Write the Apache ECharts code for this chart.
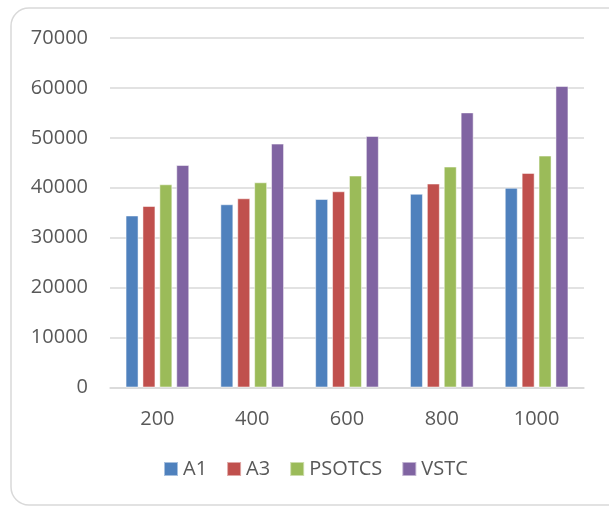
<!DOCTYPE html>
<html>
<head>
<meta charset="utf-8">
<script src="https://cdn.jsdelivr.net/npm/echarts@6/dist/echarts.min.js"></script>
<style>
  html, body { margin: 0; padding: 0; background: #fff; }
  #chart { width: 609px; height: 507px; }
</style>
</head>
<body>
<div id="chart"></div>
<script>
var categories = ['200', '400', '600', '800', '1000'];
var a1 = [34450, 36700, 37750, 38800, 40000];
var a3 = [36350, 37900, 39300, 40850, 42980];
var psotcs = [40700, 41100, 42450, 44250, 46450];
var vstc = [44560, 48850, 50380, 55100, 60380];

var seriesNames = ['A1', 'A3', 'PSOTCS', 'VSTC'];
var seriesData = [a1, a3, psotcs, vstc];
var colors = ['#4F81BD', '#C0504D', '#9BBB59', '#8064A2'];

var font = '"Open Sans", "Liberation Sans", sans-serif';

var chart = echarts.init(document.getElementById('chart'), null, { renderer: 'canvas' });

var series = seriesNames.map(function (name, i) {
  return {
    name: name,
    type: 'bar',
    data: seriesData[i],
    barWidth: 13,
    barGap: '30%',
    itemStyle: {
      color: colors[i],
      borderColor: 'rgba(255,255,255,0.5)',
      borderWidth: 1
    }
  };
});

chart.setOption({
  animation: false,
  backgroundColor: '#fff',
  color: colors,
  graphic: [{
    type: 'rect',
    shape: { x: 11, y: 8, width: 620, height: 497, r: 18 },
    style: { fill: 'none', stroke: '#d9d9d9', lineWidth: 1.5 },
    z: -1
  }],
  grid: {
    left: 110,
    right: 25,
    top: 38,
    bottom: 119.5
  },
  legend: {
    data: seriesNames,
    left: 163,
    top: 459,
    padding: 0,
    icon: 'rect',
    itemWidth: 14,
    itemHeight: 14,
    itemGap: 19,
    textStyle: { color: '#595959', fontSize: 20, fontFamily: font }
  },
  xAxis: {
    type: 'category',
    data: categories,
    axisLine: { lineStyle: { color: '#d9d9d9', width: 1.5 } },
    axisTick: { show: false },
    axisLabel: { color: '#595959', fontSize: 20, fontFamily: font, margin: 22 }
  },
  yAxis: {
    type: 'value',
    min: 0,
    max: 70000,
    interval: 10000,
    axisLine: { show: false },
    axisTick: { show: false },
    splitLine: { lineStyle: { color: '#d9d9d9', width: 1.5 } },
    axisLabel: {
      color: '#595959', fontSize: 20, fontFamily: font, margin: 22,
      formatter: function (v) { return String(v); }
    }
  },
  series: series
});
</script>
</body>
</html>
